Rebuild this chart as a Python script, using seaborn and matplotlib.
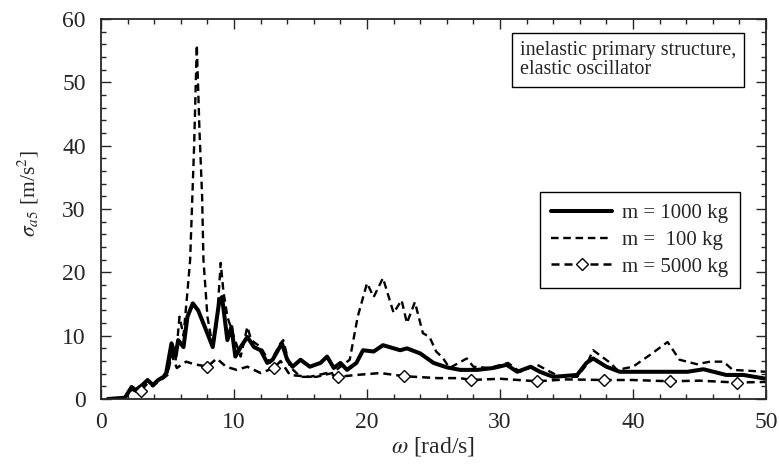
import matplotlib
matplotlib.use("Agg")
import matplotlib.pyplot as plt
from matplotlib.ticker import MultipleLocator
import numpy as np
import pandas as pd
import seaborn as sns

# Frequency grids (rad/s) and RMS acceleration of the oscillator (m/s^2)
w_1000 = [0.5, 1.8, 2.3, 2.6, 3.1, 3.5, 3.9, 4.3, 4.7, 4.9, 5.3, 5.6, 5.8, 6.2, 6.5,
          6.9, 7.3, 7.8, 8.4, 8.9, 9.1, 9.5, 9.8, 10.1, 10.5, 11.0, 11.5, 12.0, 12.5,
          12.9, 13.6, 14.0, 14.4, 15.0, 15.7, 16.5, 17.0, 17.5, 18.0, 18.5, 19.2,
          19.7, 20.5, 21.2, 22.5, 23.0, 24.0, 25.0, 26.0, 27.0, 28.3, 29.5, 30.5,
          31.3, 32.3, 33.0, 34.0, 35.8, 36.5, 37.0, 38.0, 39.0, 41.3, 44.1, 45.3,
          47.0, 48.3, 50.0]
s_1000 = [0.0, 0.2, 1.9, 1.4, 2.2, 3.0, 2.2, 3.0, 3.5, 4.1, 8.8, 6.7, 9.3, 8.2, 13.0,
          15.1, 14.0, 11.4, 8.2, 15.6, 16.1, 9.3, 11.4, 6.7, 8.2, 9.8, 8.2, 7.7, 5.7,
          6.2, 8.8, 6.2, 5.1, 6.2, 5.1, 5.7, 6.7, 4.9, 5.7, 4.6, 5.7,
          7.7, 7.5, 8.5, 7.7, 8.0, 7.2, 5.7, 5.0, 4.6, 4.6, 4.9, 5.4,
          4.3, 5.1, 4.3, 3.5, 3.8, 5.7, 6.4, 5.1, 4.3, 4.3, 4.3, 4.7,
          3.8, 3.8, 3.2]

w_100 = [0.5, 1.8, 2.3, 2.6, 3.1, 3.5, 3.9, 4.3, 4.7, 5.0, 5.3, 5.6, 5.9, 6.2, 6.5,
         6.7, 7.0, 7.2, 7.4, 7.6, 7.7, 8.0, 8.4, 8.7, 9.0, 9.2, 9.5, 9.9, 10.5, 11.0,
         11.3, 12.0, 12.7, 13.5, 13.7, 14.2, 15.0, 16.2, 17.4, 18.0, 18.7, 19.3, 20.0,
         20.5, 21.2, 22.0, 22.6, 23.0, 23.6, 24.2, 24.7, 25.2, 25.7, 26.2, 27.5, 28.0,
         29.2, 30.6, 31.5, 32.8, 33.5, 34.5, 35.8, 36.5, 37.0, 38.3, 38.8, 40.0, 41.3,
         42.6, 43.5, 44.8, 45.8, 46.8, 47.5, 50.0]
s_100 = [0.0, 0.2, 1.8, 1.3, 2.1, 2.8, 2.2, 3.0, 3.5, 4.2, 7.7, 6.0, 13.0, 10.0, 17.0,
         22.0, 40.0, 55.9, 42.5, 32.0, 22.0, 13.0, 8.2, 12.0, 21.5, 17.0, 13.0, 10.4, 6.7, 11.4,
         9.3, 8.2, 5.7, 8.8, 9.3, 5.1, 3.5, 3.5, 4.1, 5.1, 6.2, 13.0, 18.3,
         16.1, 19.1, 13.6, 15.6, 12.0, 15.3, 10.4, 9.8, 7.5, 6.5, 4.9, 6.4, 5.1,
         4.9, 5.7, 4.3, 5.4, 4.6, 3.5, 3.5, 5.4, 7.7, 5.7, 4.6, 5.1, 7.0,
         9.0, 6.2, 5.5, 5.9, 5.9, 4.6, 4.3]

w_5000 = [0.5, 1.8, 2.3, 2.6, 3.0, 3.5, 3.9, 4.3, 4.7, 5.0, 5.3, 5.7, 6.4, 7.0, 8.0,
          8.7, 9.4, 10.2, 11.0, 12.0, 13.0, 13.5, 14.2, 15.7, 17.0, 17.8, 19.2, 21.0,
          22.8, 25.3, 27.0, 27.8, 30.0, 32.8, 35.0, 37.8, 40.0, 42.8, 45.0, 47.8, 50.0]
s_5000 = [0.0, 0.2, 1.5, 1.2, 1.3, 2.5, 2.0, 2.8, 3.3, 3.8, 7.0, 4.9, 5.9, 5.5, 5.1,
          6.4, 5.1, 4.6, 5.1, 4.1, 4.9, 6.0, 3.8, 3.5, 4.1, 3.5, 3.8, 4.1,
          3.6, 3.3, 3.3, 3.0, 3.2, 2.8, 3.1, 3.0, 3.0, 2.8, 2.9, 2.6, 2.7]
# frequencies carrying the diamond symbols
w_marks_5000 = [3.0, 8.0, 13.0, 17.8, 22.8, 27.8, 32.8, 37.8, 42.8, 47.8]

labels = ["m = 1000 kg", "m =  100 kg", "m = 5000 kg"]

sns.set_style("ticks")
plt.rcParams["font.family"] = ["Liberation Serif", "DejaVu Serif"]
plt.rcParams["mathtext.fontset"] = "stix"
plt.rcParams["xtick.direction"] = "in"
plt.rcParams["ytick.direction"] = "in"

fig = plt.figure(figsize=(7.79, 4.65), dpi=100)
ax = fig.add_axes([0.1297, 0.1419, 0.8536, 0.8172])

df1 = pd.DataFrame({"w": w_1000, "s": s_1000})
df2 = pd.DataFrame({"w": w_100, "s": s_100})
df3 = pd.DataFrame({"w": w_5000, "s": s_5000})

sns.lineplot(data=df1, x="w", y="s", ax=ax, color="black", lw=2.9,
             label=labels[0], sort=False)
sns.lineplot(data=df2, x="w", y="s", ax=ax, color="black", lw=1.7,
             label=labels[1], sort=False)
ax.lines[-1].set_dashes([3.2, 2.0])
mark_idx = [w_5000.index(v) for v in w_marks_5000]
sns.lineplot(data=df3, x="w", y="s", ax=ax, color="black", lw=1.8,
             label=labels[2], sort=False, marker="D", markersize=6,
             markerfacecolor="white", markeredgecolor="black",
             markeredgewidth=1.0, markevery=mark_idx)
ax.lines[-1].set_dashes([3.2, 2.0])

ax.set_xlim(0, 50)
ax.set_ylim(0, 60)
ax.xaxis.set_major_locator(MultipleLocator(10))
ax.xaxis.set_minor_locator(MultipleLocator(2))
ax.yaxis.set_major_locator(MultipleLocator(10))
ax.yaxis.set_minor_locator(MultipleLocator(2))
ax.tick_params(which="both", top=True, right=True, labelsize=17, width=1.0)
ax.tick_params(axis="y", pad=11)
ax.tick_params(axis="x", pad=9)
ax.tick_params(which="major", length=7)
ax.tick_params(which="minor", length=3.5)
for sp in ax.spines.values():
    sp.set_linewidth(1.3)

ax.set_xlabel(r"$\omega$ [rad/s]", fontsize=17, labelpad=2)
ax.set_ylabel(r"$\sigma_{a5}$ [m/s$^2$]", fontsize=15.5)
ax.yaxis.set_label_coords(-0.090, 0.54)

leg = ax.legend(loc="upper left", bbox_to_anchor=(0.660, 0.545), fontsize=15,
                frameon=True, fancybox=False, edgecolor="black", framealpha=1,
                handlelength=2.9, numpoints=1, borderpad=0.55, labelspacing=0.35,
                handletextpad=0.5, borderaxespad=0)
leg.get_frame().set_linewidth(1.0)

ax.text(0.630, 0.943, "inelastic primary structure,\nelastic oscillator",
        transform=ax.transAxes, fontsize=14.5, va="top", ha="left",
        linespacing=1.05,
        bbox=dict(boxstyle="square,pad=0.4", facecolor="white",
                  edgecolor="black", linewidth=1.0))

fig.savefig("out.png", dpi=100)
